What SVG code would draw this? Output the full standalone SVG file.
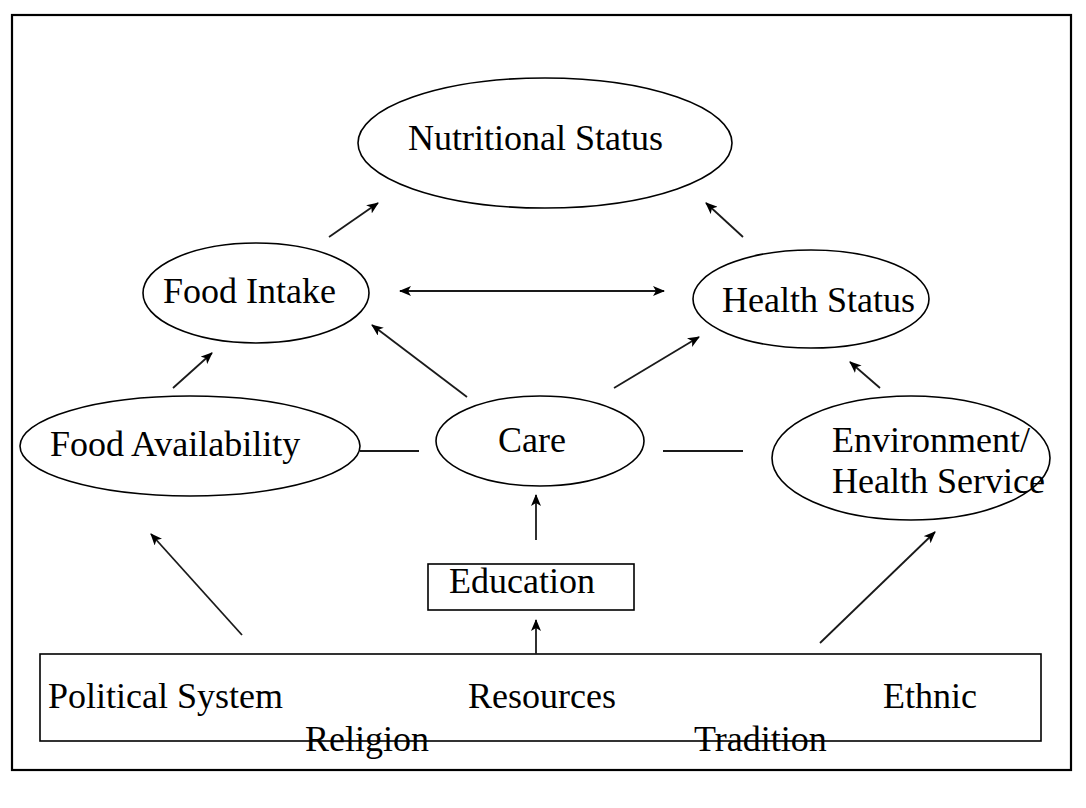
<svg xmlns="http://www.w3.org/2000/svg" width="1086" height="808" viewBox="0 0 1086 808">
  <style>
    .shape { fill: #ffffff; stroke: #000000; stroke-width: 1.6; }
    .label { font-family: "Liberation Serif", "Times New Roman", serif; font-size: 36px; fill: #000000; }
    .link { stroke: #1a1a1a; stroke-width: 1.8; fill: none; }
    .arrow { marker-end: url(#head); }
    .both { marker-start: url(#headStart); marker-end: url(#head); }
  </style>
  <defs>
    <marker id="head" viewBox="0 0 12 10" refX="11" refY="5" markerWidth="12" markerHeight="10" markerUnits="userSpaceOnUse" orient="auto">
      <path d="M0,0 L12,5 L0,10 L3,5 Z" fill="#000000"/>
    </marker>
    <marker id="headStart" viewBox="0 0 12 10" refX="1" refY="5" markerWidth="12" markerHeight="10" markerUnits="userSpaceOnUse" orient="auto">
      <path d="M12,0 L0,5 L12,10 L9,5 Z" fill="#000000"/>
    </marker>
  </defs>

  <rect x="0" y="0" width="1086" height="808" fill="#ffffff"/>
  <!-- outer frame -->
  <rect x="12" y="15" width="1059" height="755" fill="none" stroke="#000000" stroke-width="2.2"/>

  <g id="nutritional-status">
    <ellipse class="shape" cx="545" cy="143" rx="187" ry="65"/>
    <text class="label" x="408" y="150">Nutritional Status</text>
  </g>

  <g id="food-intake">
    <ellipse class="shape" cx="256" cy="293" rx="113" ry="50"/>
    <text class="label" x="163" y="303">Food Intake</text>
  </g>

  <g id="health-status">
    <ellipse class="shape" cx="811" cy="299" rx="118" ry="49"/>
    <text class="label" x="722" y="312">Health Status</text>
  </g>

  <g id="food-availability">
    <ellipse class="shape" cx="190" cy="446" rx="170" ry="50"/>
    <text class="label" x="50" y="456">Food Availability</text>
  </g>

  <g id="care">
    <ellipse class="shape" cx="540" cy="441" rx="104" ry="45"/>
    <text class="label" x="498" y="452">Care</text>
  </g>

  <g id="environment-health-service">
    <ellipse class="shape" cx="911" cy="458" rx="139" ry="62"/>
    <text class="label" x="832" y="452">Environment/</text>
    <text class="label" x="832" y="493">Health Service</text>
  </g>

  <g id="education">
    <rect class="shape" x="428" y="564" width="206" height="46"/>
    <text class="label" x="449" y="593">Education</text>
  </g>

  <g id="context-factors">
    <rect class="shape" x="40" y="654" width="1001" height="87"/>
    <text class="label" x="48" y="708">Political System</text>
    <text class="label" x="468" y="708">Resources</text>
    <text class="label" x="883" y="708">Ethnic</text>
    <text class="label" x="305" y="751">Religion</text>
    <text class="label" x="694" y="751">Tradition</text>
  </g>

  <g id="connectors">
    <line class="link arrow" x1="329" y1="237" x2="378" y2="203"/>
    <line class="link arrow" x1="743" y1="237" x2="706" y2="203"/>
    <line class="link both" x1="400" y1="291" x2="664" y2="291"/>
    <line class="link arrow" x1="173" y1="388" x2="212" y2="353"/>
    <line class="link arrow" x1="467" y1="397" x2="372" y2="325"/>
    <line class="link arrow" x1="614" y1="388" x2="699" y2="337"/>
    <line class="link arrow" x1="880" y1="388" x2="850" y2="362"/>
    <line class="link" x1="360" y1="451" x2="419" y2="451"/>
    <line class="link" x1="663" y1="451" x2="743" y2="451"/>
    <line class="link arrow" x1="536" y1="540" x2="536" y2="495"/>
    <line class="link arrow" x1="242" y1="635" x2="151" y2="534"/>
    <line class="link arrow" x1="536" y1="654" x2="536" y2="620"/>
    <line class="link arrow" x1="820" y1="643" x2="935" y2="532"/>
  </g>
</svg>
